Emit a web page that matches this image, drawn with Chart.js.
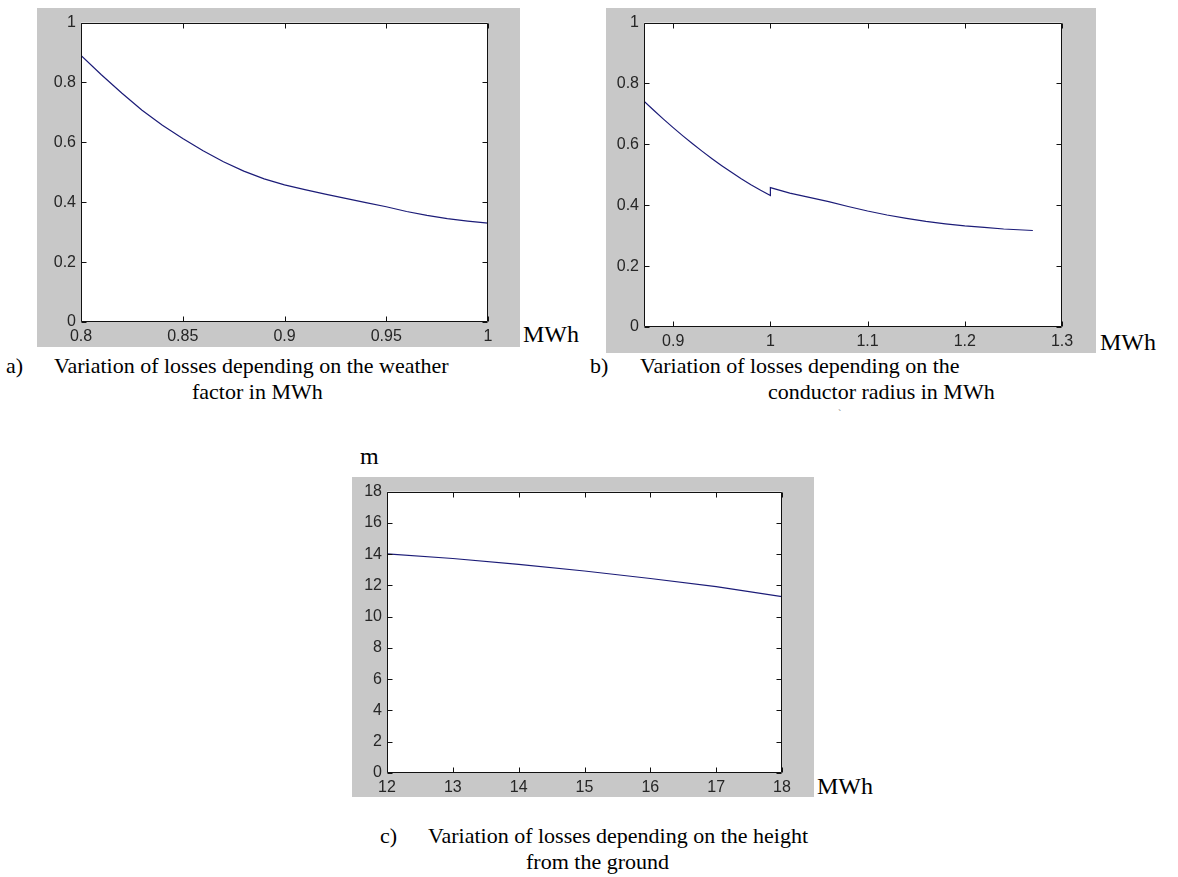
<!DOCTYPE html>
<html>
<head>
<meta charset="utf-8">
<script src="https://cdn.jsdelivr.net/npm/chart.js@4.4.1/dist/chart.umd.min.js"></script>
<style>
  body { margin: 0; background: #fff; width: 1178px; height: 877px; position: relative; overflow: hidden;
         font-family: "Liberation Serif", "Times New Roman", serif; }
  .panel { position: absolute; background: #c8c8c8; }
  .panel canvas { display: block; }
  .txt { position: absolute; font-size: 22px; line-height: 24px; white-space: nowrap; color: #000; }
  .unit { position: absolute; font-size: 24px; line-height: 28px; white-space: nowrap; color: #000; }
</style>
</head>
<body>

<div class="panel" style="left:37px;top:8px;width:483px;height:339px"><canvas id="chartA" width="483" height="339"></canvas></div>
<div class="panel" style="left:606px;top:8px;width:490px;height:345px"><canvas id="chartB" width="490" height="345"></canvas></div>
<div class="panel" style="left:352px;top:477px;width:462px;height:320px"><canvas id="chartC" width="462" height="320"></canvas></div>

<div class="unit" style="left:523px;top:320px">MWh</div>
<div class="unit" style="left:1100px;top:328px">MWh</div>
<div class="unit" style="left:817px;top:772px">MWh</div>
<div class="unit" style="left:360px;top:442px">m</div>

<div class="txt" style="left:6px;top:354px">a)</div>
<div class="txt" style="left:54px;top:354px">Variation of losses depending on the weather</div>
<div class="txt" style="left:192px;top:380px">factor in MWh</div>

<div class="txt" style="left:590px;top:354px">b)</div>
<div class="txt" style="left:640px;top:354px">Variation of losses depending on the</div>
<div class="txt" style="left:768px;top:380px">conductor radius in MWh</div>
<div class="txt" style="left:838px;top:402px;font-size:10px;color:#777">`</div>

<div class="txt" style="left:380px;top:824px">c)</div>
<div class="txt" style="left:428px;top:824px">Variation of losses depending on the height</div>
<div class="txt" style="left:526px;top:850px">from the ground</div>

<script>
// a) losses vs weather factor
const weatherX = [0.80, 0.81, 0.82, 0.83, 0.84, 0.85, 0.86, 0.87, 0.88, 0.89, 0.90,
                  0.91, 0.92, 0.93, 0.94, 0.95, 0.96, 0.97, 0.98, 0.99, 1.00];
const weatherLoss = [0.89, 0.826, 0.765, 0.707, 0.657, 0.613, 0.572, 0.535, 0.504, 0.478, 0.458,
                     0.442, 0.427, 0.413, 0.399, 0.385, 0.369, 0.356, 0.345, 0.337, 0.330];
const weatherTicksX = [0.8, 0.85, 0.9, 0.95, 1];

// b) losses vs conductor radius (small step at 1.0)
const radiusX = [0.87, 0.88, 0.89, 0.90, 0.91, 0.92, 0.93, 0.94, 0.95, 0.96, 0.97, 0.98, 0.99, 1.00,
                 1.00, 1.02, 1.04, 1.06, 1.08, 1.10, 1.12, 1.14, 1.16, 1.18, 1.20, 1.22, 1.24, 1.27];
const radiusLoss = [0.742, 0.712, 0.683, 0.655, 0.628, 0.602, 0.577, 0.553, 0.530, 0.508, 0.487, 0.467, 0.449, 0.432,
                    0.458, 0.440, 0.426, 0.412, 0.396, 0.381, 0.368, 0.357, 0.347, 0.339, 0.332, 0.327, 0.322, 0.317];
const radiusTicksX = [0.9, 1, 1.1, 1.2, 1.3];

// c) losses vs height from the ground
const heightX = [12, 13, 14, 15, 16, 17, 18];
const heightLoss = [14.02, 13.72, 13.35, 12.92, 12.44, 11.92, 11.28];
const heightTicksX = [12, 13, 14, 15, 16, 17, 18];

const unitTicksY = [0, 0.2, 0.4, 0.6, 0.8, 1];
const heightTicksY = [0, 2, 4, 6, 8, 10, 12, 14, 16, 18];

const fmt = v => String(Math.round(v * 1000) / 1000);

// white plot area, black box and inward ticks on all four sides
const matlabAxes = {
    id: "matlabAxes",
    beforeDraw(chart) {
        const { ctx, chartArea: a } = chart;
        ctx.save();
        ctx.fillStyle = "#fff";
        ctx.fillRect(a.left, a.top, a.right - a.left, a.bottom - a.top);
        ctx.restore();
    },
    afterDatasetsDraw(chart) {
        const { ctx, chartArea: a, scales } = chart;
        const L = Math.round(a.left) + 0.5, R = Math.round(a.right) - 0.5;
        const T = Math.round(a.top) + 0.5, B = Math.round(a.bottom) - 0.5;
        ctx.save();
        ctx.strokeStyle = "#111";
        ctx.lineWidth = 1;
        ctx.beginPath();
        ctx.rect(L, T, R - L, B - T);
        scales.x.ticks.forEach(t => {
            const px = Math.round(scales.x.getPixelForValue(t.value)) + 0.5;
            ctx.moveTo(px, B); ctx.lineTo(px, B - 5);
            ctx.moveTo(px, T); ctx.lineTo(px, T + 5);
        });
        scales.y.ticks.forEach(t => {
            const py = Math.round(scales.y.getPixelForValue(t.value)) + 0.5;
            ctx.moveTo(L, py); ctx.lineTo(L + 5, py);
            ctx.moveTo(R, py); ctx.lineTo(R - 5, py);
        });
        ctx.stroke();
        ctx.restore();
    }
};

function makeChart(id, xs, ys, o) {
    const points = xs.map((x, i) => ({ x: x, y: ys[i] }));
    const tickFont = { family: "'Liberation Sans', Arial, sans-serif", size: 16 };
    return new Chart(document.getElementById(id), {
        type: "line",
        data: {
            datasets: [{
                data: points,
                borderColor: "#1c1c78",
                borderWidth: 1.2,
                pointRadius: 0,
                tension: 0,
                fill: false
            }]
        },
        options: {
            responsive: false,
            animation: false,
            layout: { padding: { top: o.top, right: o.right, left: 0, bottom: 0 } },
            plugins: { legend: { display: false }, tooltip: { enabled: false } },
            scales: {
                x: {
                    type: "linear",
                    min: o.xMin,
                    max: o.xMax,
                    afterBuildTicks: s => { s.ticks = o.xTicks.map(v => ({ value: v })); },
                    afterFit: s => { s.height = o.bottom; },
                    grid: { display: false, drawTicks: false },
                    border: { display: false },
                    ticks: { font: tickFont, color: "#262626", padding: 5, autoSkip: false, maxRotation: 0, callback: fmt }
                },
                y: {
                    type: "linear",
                    min: o.yTicks[0],
                    max: o.yTicks[o.yTicks.length - 1],
                    afterBuildTicks: s => { s.ticks = o.yTicks.map(v => ({ value: v })); },
                    afterFit: s => { s.width = o.left; },
                    grid: { display: false, drawTicks: false },
                    border: { display: false },
                    ticks: { font: tickFont, color: "#262626", padding: 5, autoSkip: false, callback: fmt }
                }
            }
        },
        plugins: [matlabAxes]
    });
}

makeChart("chartA", weatherX, weatherLoss,
    { xMin: 0.8, xMax: 1, xTicks: weatherTicksX, yTicks: unitTicksY, left: 44, right: 32, top: 7, bottom: 25 });
makeChart("chartB", radiusX, radiusLoss,
    { xMin: 0.87, xMax: 1.3, xTicks: radiusTicksX, yTicks: unitTicksY, left: 38, right: 34, top: 9, bottom: 26 });
makeChart("chartC", heightX, heightLoss,
    { xMin: 12, xMax: 18, xTicks: heightTicksX, yTicks: heightTicksY, left: 35, right: 32, top: 10, bottom: 24 });
</script>
</body>
</html>
